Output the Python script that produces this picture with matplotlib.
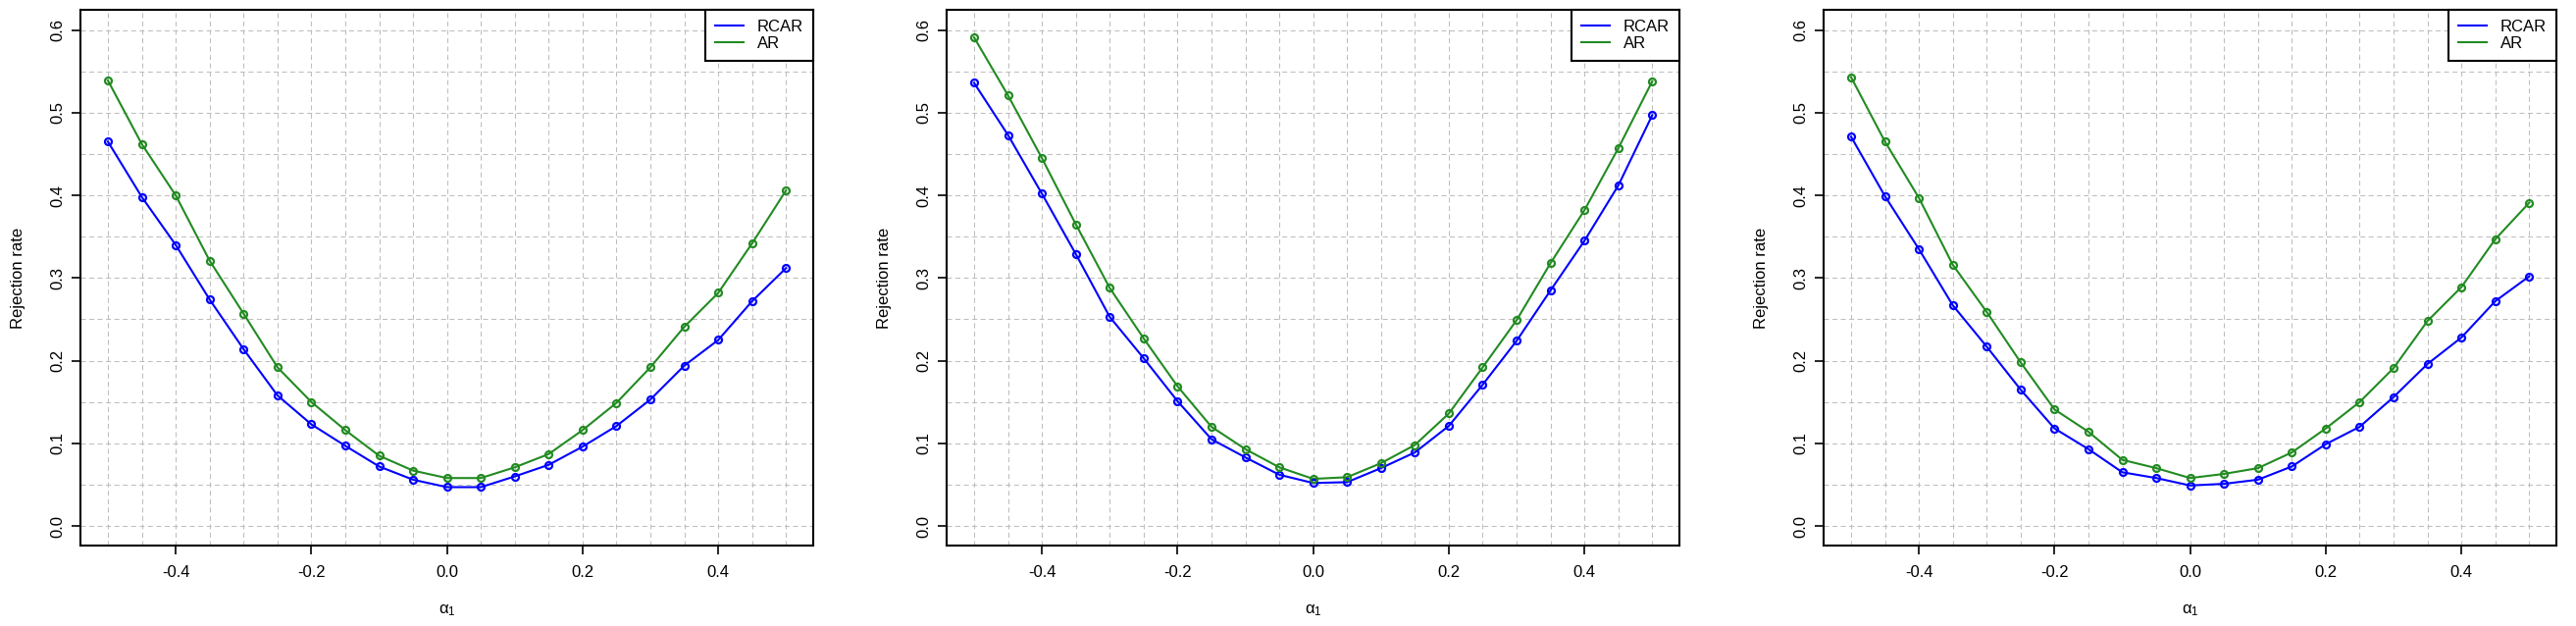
import matplotlib
matplotlib.use("Agg")
import matplotlib.pyplot as plt
import numpy as np

plt.rcParams['font.family'] = ['Liberation Sans', 'DejaVu Sans']
plt.rcParams['mathtext.fontset'] = 'custom'
plt.rcParams['mathtext.rm'] = 'Liberation Sans'
plt.rcParams['mathtext.it'] = 'Liberation Sans'

alpha1 = [-0.5, -0.45, -0.4, -0.35, -0.3, -0.25, -0.2, -0.15, -0.1, -0.05, 0.0,
          0.05, 0.1, 0.15, 0.2, 0.25, 0.3, 0.35, 0.4, 0.45, 0.5]

rcar_1 = [0.465, 0.398, 0.340, 0.274, 0.214, 0.158, 0.123, 0.097, 0.072, 0.056, 0.047,
          0.047, 0.060, 0.074, 0.096, 0.121, 0.153, 0.194, 0.225, 0.272, 0.312]
ar_1 = [0.539, 0.462, 0.400, 0.321, 0.257, 0.192, 0.150, 0.116, 0.085, 0.067, 0.058,
        0.058, 0.071, 0.087, 0.116, 0.149, 0.192, 0.241, 0.282, 0.342, 0.406]

rcar_2 = [0.536, 0.473, 0.402, 0.329, 0.253, 0.203, 0.151, 0.105, 0.083, 0.062, 0.052,
          0.053, 0.070, 0.089, 0.121, 0.171, 0.224, 0.285, 0.345, 0.412, 0.497]
ar_2 = [0.591, 0.521, 0.445, 0.365, 0.288, 0.227, 0.169, 0.120, 0.093, 0.071, 0.057,
        0.059, 0.076, 0.098, 0.136, 0.192, 0.249, 0.318, 0.382, 0.457, 0.538]

rcar_3 = [0.471, 0.399, 0.335, 0.267, 0.217, 0.165, 0.118, 0.093, 0.065, 0.058, 0.049,
          0.051, 0.056, 0.072, 0.099, 0.120, 0.156, 0.196, 0.228, 0.272, 0.302]
ar_3 = [0.543, 0.465, 0.397, 0.316, 0.259, 0.198, 0.141, 0.114, 0.080, 0.070, 0.058,
        0.063, 0.070, 0.089, 0.118, 0.150, 0.191, 0.248, 0.289, 0.347, 0.391]

panels = [(rcar_1, ar_1), (rcar_2, ar_2), (rcar_3, ar_3)]
series_labels = ["RCAR", "AR"]
series_colors = ["#0000FF", "#228B22"]
xticks = [-0.4, -0.2, 0.0, 0.2, 0.4]
yticks = [0.0, 0.1, 0.2, 0.3, 0.4, 0.5, 0.6]
xgrid = np.round(np.arange(-0.5, 0.5001, 0.05), 2)
ygrid = np.round(np.arange(0.0, 0.6001, 0.05), 2)

W, H = 2626, 638
fig = plt.figure(figsize=(W / 100, H / 100), dpi=100)
lefts_px = [82.3, 965.3, 1859.3]
width_px = 746.7
top_px, bottom_px = 10.3, 556.3
grid_ls = (0, (4.8, 3.4))

for left, (rc, ar) in zip(lefts_px, panels):
    ax = fig.add_axes([left / W, 1 - bottom_px / H, width_px / W, (bottom_px - top_px) / H])
    ax.set_xlim(-0.54, 0.54)
    ax.set_ylim(-0.024, 0.624)
    for gx in xgrid:
        ax.axvline(gx, color="#BEBEBE", lw=0.75, ls=grid_ls, zorder=0)
    for gy in ygrid:
        ax.axhline(gy, color="#BEBEBE", lw=0.75, ls=grid_ls, zorder=0)
    for vals, lab, col in zip((rc, ar), series_labels, series_colors):
        ax.plot(alpha1, vals, color=col, lw=1.5, zorder=3)
        ax.plot(alpha1, vals, ls='none', marker='o', ms=5, mfc='none',
                mec=col, mew=1.6, zorder=4)
    ax.set_xticks(xticks)
    ax.set_xticklabels([f"{t:.1f}" for t in xticks])
    ax.set_yticks(yticks)
    ax.set_yticklabels([f"{t:.1f}" for t in yticks], rotation=90, va='center')
    ax.tick_params(direction='out', length=6.5, width=1.2, labelsize=12, pad=8)
    ax.tick_params(axis='y', pad=5)
    for sp in ax.spines.values():
        sp.set_linewidth(1.5)
    ax.set_xlabel(r'$\alpha_1$', fontsize=12)
    ax.xaxis.set_label_coords(0.5, -0.106)
    ax.set_ylabel("Rejection rate", fontsize=12)
    ax.yaxis.set_label_coords(-0.076, 0.5)
    handles = [plt.Line2D([], [], color=c, lw=1.5) for c in series_colors]
    leg = ax.legend(handles, series_labels, loc='upper right', bbox_to_anchor=(1, 1),
                    borderaxespad=0, borderpad=0.6, handlelength=1.76, handletextpad=0.84,
                    labelspacing=0.1, fontsize=12, fancybox=False, framealpha=1,
                    edgecolor='black')
    leg.get_frame().set_linewidth(1.5)

fig.savefig("out.png", dpi=100)
